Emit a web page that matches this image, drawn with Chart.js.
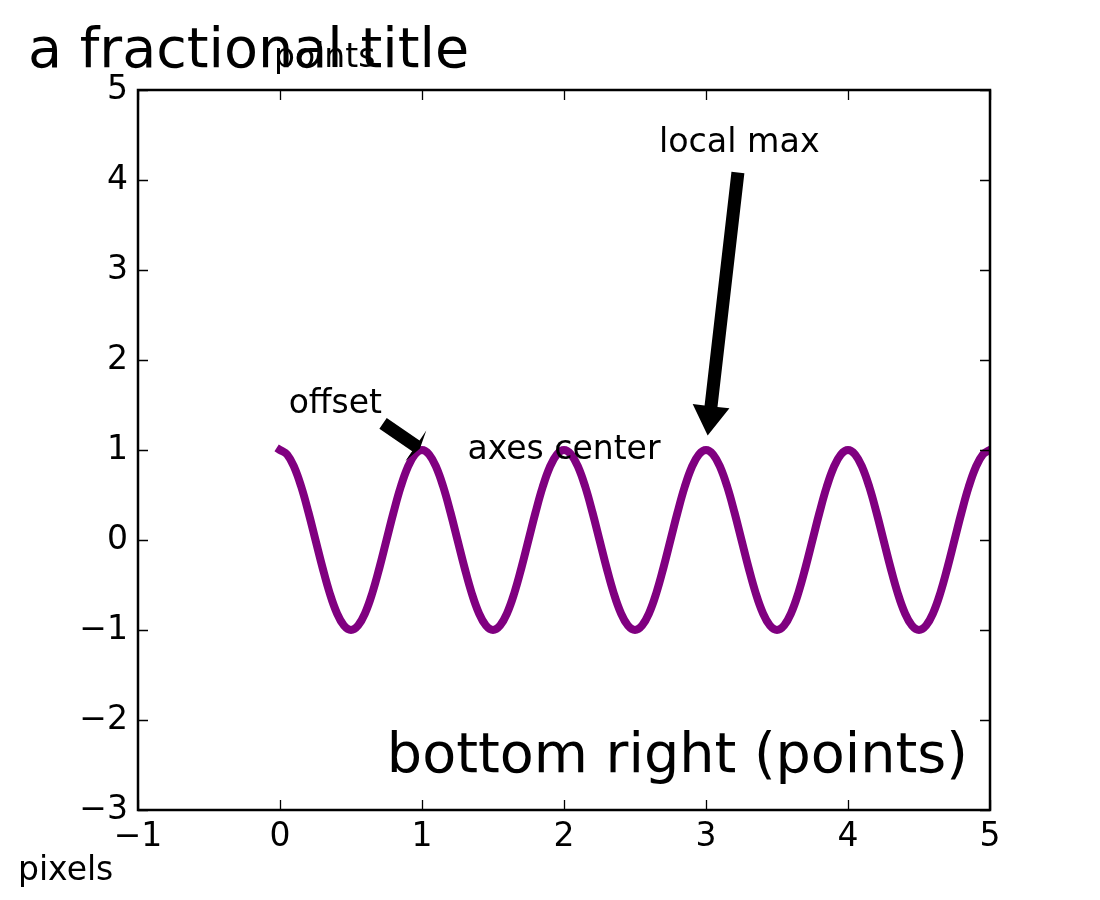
<!DOCTYPE html>
<html>
<head>
<meta charset="utf-8">
<script src="https://cdn.jsdelivr.net/npm/chart.js@4/dist/chart.umd.min.js"></script>
<style>
  html, body { margin: 0; padding: 0; background: #fff; }
  #c { display: block; }
</style>
</head>
<body>
<canvas id="c" width="1100" height="900" style="width:1100px;height:900px"></canvas>
<script>
// x positions of the curve and the values
const xValues = [
  0.00, 0.05, 0.10, 0.15, 0.20, 0.25, 0.30, 0.35, 0.40, 0.45,
  0.50, 0.55, 0.60, 0.65, 0.70, 0.75, 0.80, 0.85, 0.90, 0.95,
  1.00, 1.05, 1.10, 1.15, 1.20, 1.25, 1.30, 1.35, 1.40, 1.45,
  1.50, 1.55, 1.60, 1.65, 1.70, 1.75, 1.80, 1.85, 1.90, 1.95,
  2.00, 2.05, 2.10, 2.15, 2.20, 2.25, 2.30, 2.35, 2.40, 2.45,
  2.50, 2.55, 2.60, 2.65, 2.70, 2.75, 2.80, 2.85, 2.90, 2.95,
  3.00, 3.05, 3.10, 3.15, 3.20, 3.25, 3.30, 3.35, 3.40, 3.45,
  3.50, 3.55, 3.60, 3.65, 3.70, 3.75, 3.80, 3.85, 3.90, 3.95,
  4.00, 4.05, 4.10, 4.15, 4.20, 4.25, 4.30, 4.35, 4.40, 4.45,
  4.50, 4.55, 4.60, 4.65, 4.70, 4.75, 4.80, 4.85, 4.90, 4.95,
  5.00
];
const yValues = [
  1, 0.95, 0.81, 0.59, 0.31, 0, -0.31, -0.59, -0.81, -0.95,
  -1, -0.95, -0.81, -0.59, -0.31, 0, 0.31, 0.59, 0.81, 0.95,
  1, 0.95, 0.81, 0.59, 0.31, 0, -0.31, -0.59, -0.81, -0.95,
  -1, -0.95, -0.81, -0.59, -0.31, 0, 0.31, 0.59, 0.81, 0.95,
  1, 0.95, 0.81, 0.59, 0.31, 0, -0.31, -0.59, -0.81, -0.95,
  -1, -0.95, -0.81, -0.59, -0.31, 0, 0.31, 0.59, 0.81, 0.95,
  1, 0.95, 0.81, 0.59, 0.31, 0, -0.31, -0.59, -0.81, -0.95,
  -1, -0.95, -0.81, -0.59, -0.31, 0, 0.31, 0.59, 0.81, 0.95,
  1, 0.95, 0.81, 0.59, 0.31, 0, -0.31, -0.59, -0.81, -0.95,
  -1, -0.95, -0.81, -0.59, -0.31, 0, 0.31, 0.59, 0.81, 0.95,
  1
];
const xTicks = [-1, 0, 1, 2, 3, 4, 5];
const yTicks = [-3, -2, -1, 0, 1, 2, 3, 4, 5];

const FONT = '"DejaVu Sans", sans-serif';
const minus = v => String(v).replace('-', '\u2212');

function drawArrow(ctx, sx, sy, ex, ey) {
  // matplotlib-style YAArrow, shrunk 5% at both ends
  const shrink = 0.05, width = 13, headWidth = 37, frac = 0.1;
  const dx = ex - sx, dy = ey - sy, len = Math.hypot(dx, dy);
  const ux = dx / len, uy = dy / len, nx = -uy, ny = ux;
  const tx = sx + ux * len * shrink, ty = sy + uy * len * shrink;
  const px = ex - ux * len * shrink, py = ey - uy * len * shrink;
  const bx = px - ux * len * frac, by = py - uy * len * frac;
  ctx.beginPath();
  ctx.moveTo(tx + nx * width / 2, ty + ny * width / 2);
  ctx.lineTo(bx + nx * width / 2, by + ny * width / 2);
  ctx.lineTo(bx + nx * headWidth / 2, by + ny * headWidth / 2);
  ctx.lineTo(px, py);
  ctx.lineTo(bx - nx * headWidth / 2, by - ny * headWidth / 2);
  ctx.lineTo(bx - nx * width / 2, by - ny * width / 2);
  ctx.lineTo(tx - nx * width / 2, ty - ny * width / 2);
  ctx.closePath();
  ctx.fillStyle = '#000';
  ctx.fill();
}

const frame = {
  id: 'frame',
  afterDraw(chart) {
    const ctx = chart.ctx;
    const a = chart.chartArea;
    const xs = chart.scales.x, ys = chart.scales.y;
    const fx = f => a.left + f * (a.right - a.left);
    const fy = f => a.bottom - f * (a.bottom - a.top);
    ctx.save();

    // inward ticks on all four sides
    ctx.strokeStyle = '#000';
    ctx.lineWidth = 1.3;
    ctx.beginPath();
    xTicks.forEach(v => {
      const x = Math.round(xs.getPixelForValue(v)) + 0.5;
      ctx.moveTo(x, a.bottom); ctx.lineTo(x, a.bottom - 10);
      ctx.moveTo(x, a.top); ctx.lineTo(x, a.top + 10);
    });
    yTicks.forEach(v => {
      const y = Math.round(ys.getPixelForValue(v)) + 0.5;
      ctx.moveTo(a.left, y); ctx.lineTo(a.left + 10, y);
      ctx.moveTo(a.right, y); ctx.lineTo(a.right - 10, y);
    });
    ctx.stroke();

    // axes frame
    ctx.lineWidth = 2.5;
    ctx.strokeRect(a.left, a.top, a.right - a.left, a.bottom - a.top);

    // annotations
    ctx.fillStyle = '#000';
    ctx.textBaseline = 'alphabetic';

    ctx.font = '55.6px ' + FONT;
    ctx.textAlign = 'left';
    ctx.fillText('a fractional title', 28, 67);

    ctx.font = '33px ' + FONT;
    ctx.fillText('points', 274, 67);
    ctx.fillText('pixels', 18, 880);

    ctx.textAlign = 'center';
    ctx.fillText('axes center', fx(0.5), fy(0.5) + 9);

    // local max
    const mx = xs.getPixelForValue(3), my = ys.getPixelForValue(1);
    ctx.font = '33.3px ' + FONT;
    ctx.textAlign = 'right';
    ctx.fillText('local max', fx(0.8), fy(0.95) + 26);
    drawArrow(ctx, fx(0.8) - 80, fy(0.95) + 32, mx, my);

    // offset
    const ox = xs.getPixelForValue(1), oy = ys.getPixelForValue(1);
    ctx.font = '33px ' + FONT;
    ctx.fillText('offset', ox - 40, oy - 37);
    drawArrow(ctx, ox - 41, oy - 28, ox, oy);

    ctx.font = '55.6px ' + FONT;
    ctx.fillText('bottom right (points)', a.right - 22, a.bottom - 38);

    ctx.restore();
  }
};

new Chart(document.getElementById('c').getContext('2d'), {
  type: 'line',
  data: {
    datasets: [{
      data: xValues.map((x, i) => ({ x: x, y: yValues[i] })),
      borderColor: '#800080',
      borderWidth: 8,
      pointRadius: 0,
      tension: 0.4,
      borderCapStyle: 'square',
      borderJoinStyle: 'round',
      fill: false,
      clip: 0
    }]
  },
  options: {
    responsive: false,
    animation: false,
    layout: { padding: { top: 90, right: 110, left: 0, bottom: 0 } },
    plugins: { legend: { display: false }, tooltip: { enabled: false } },
    scales: {
      x: {
        type: 'linear',
        min: -1, max: 5,
        afterBuildTicks: s => { s.ticks = xTicks.map(v => ({ value: v })); },
        afterFit: s => { s.height = 90; },
        grid: { display: false, drawTicks: false },
        border: { display: false },
        ticks: {
          autoSkip: false, maxRotation: 0, padding: 8,
          color: '#000', font: { family: FONT, size: 33 },
          callback: v => minus(v)
        }
      },
      y: {
        type: 'linear',
        min: -3, max: 5,
        afterBuildTicks: s => { s.ticks = yTicks.map(v => ({ value: v })); },
        afterFit: s => { s.width = 138; },
        grid: { display: false, drawTicks: false },
        border: { display: false },
        ticks: {
          autoSkip: false, padding: 10,
          color: '#000', font: { family: FONT, size: 33 },
          callback: v => minus(v)
        }
      }
    }
  },
  plugins: [frame]
});
</script>
</body>
</html>
